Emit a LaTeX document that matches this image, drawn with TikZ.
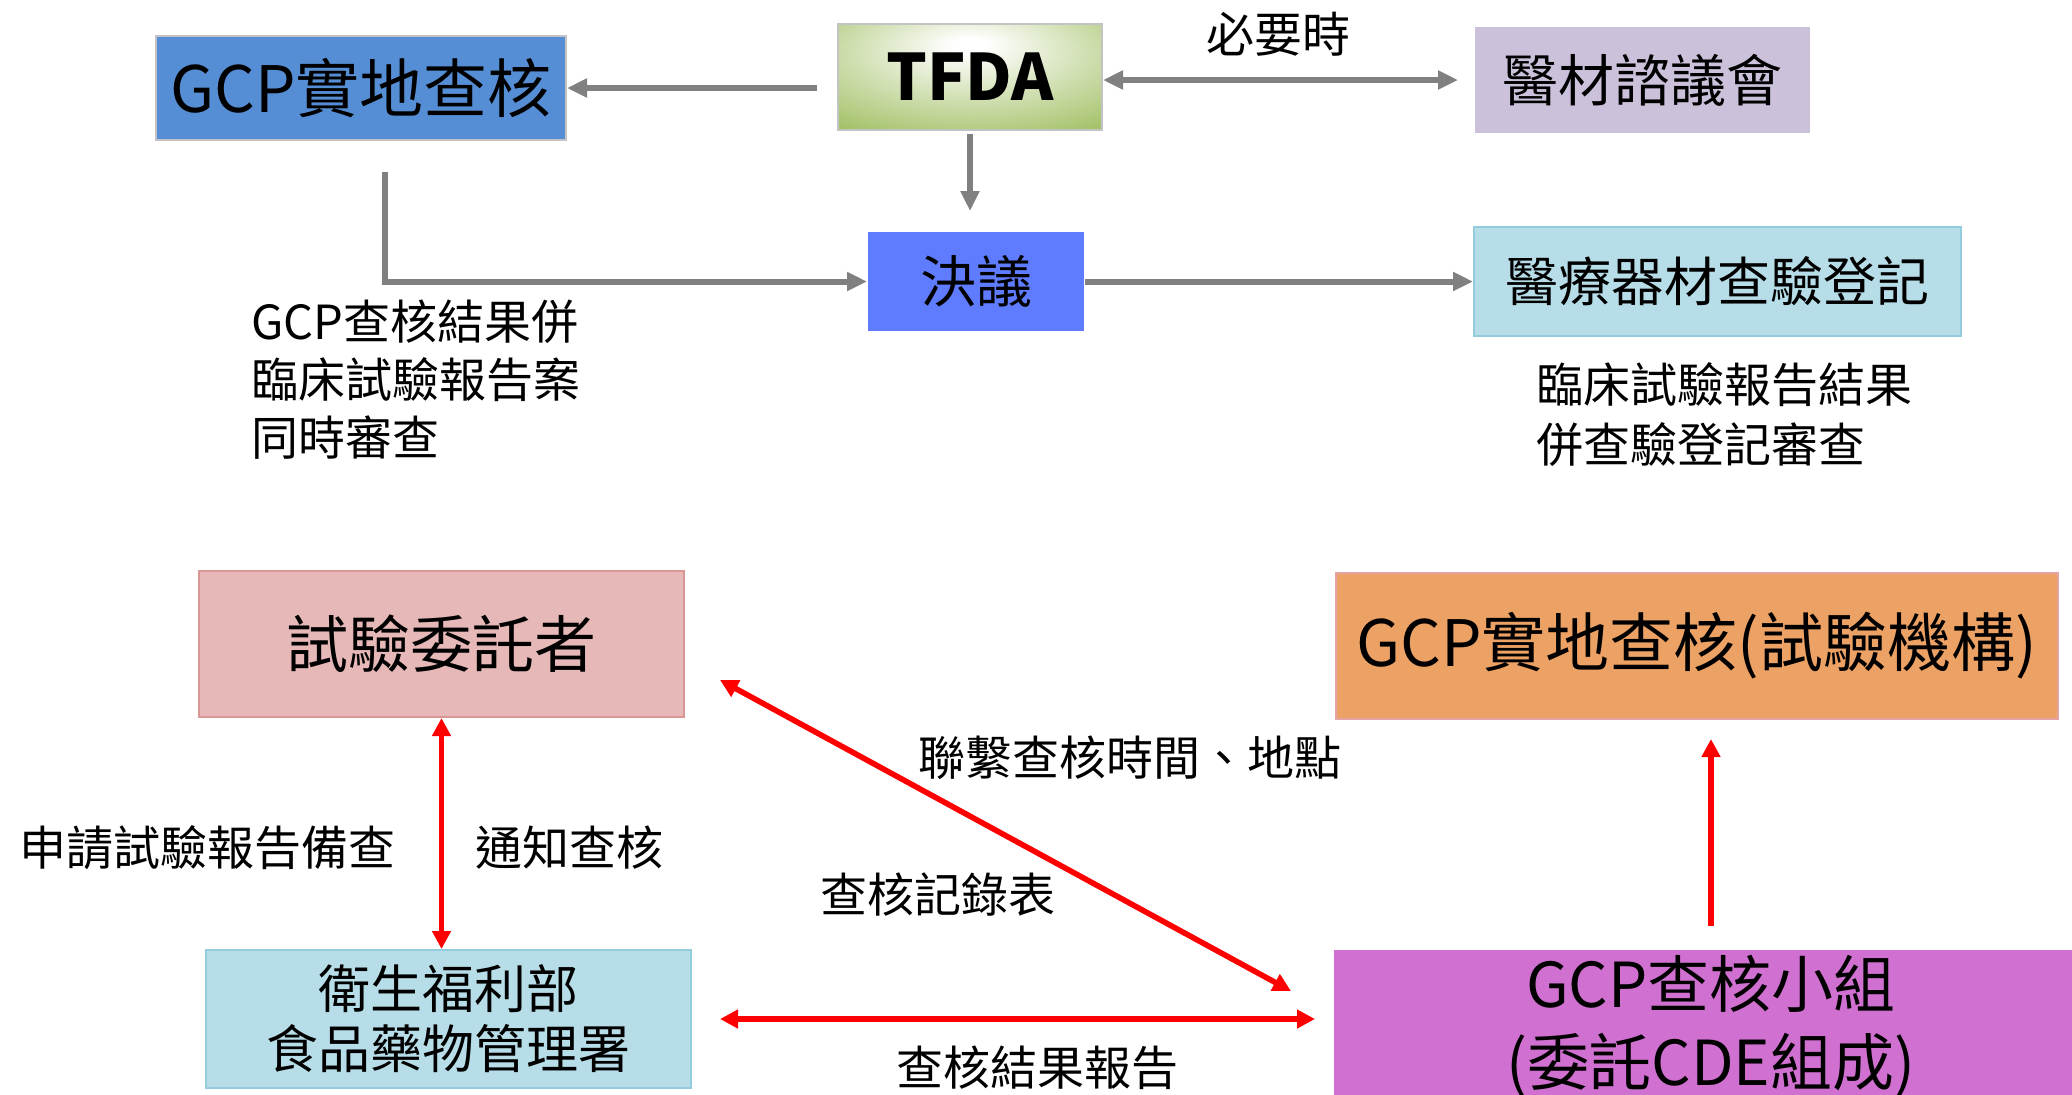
\documentclass[tikz,border=0pt]{standalone}
\usepackage{fontspec}
\setmainfont{Noto Sans CJK TC}
\usetikzlibrary{arrows.meta,calc}

\definecolor{gcpblue}{HTML}{558ED5}
\definecolor{edgegray}{HTML}{C3C3C3}
\definecolor{tfdagreen}{HTML}{9BBB59}
\definecolor{resolveblue}{HTML}{5F7CFF}
\definecolor{councilpurple}{HTML}{CCC1DA}
\definecolor{regblue}{HTML}{B7DEE8}
\definecolor{regedge}{HTML}{93CDDD}
\definecolor{sponsorpink}{HTML}{E6B9B8}
\definecolor{sponsoredge}{HTML}{D99694}
\definecolor{siteorange}{HTML}{EDA265}
\definecolor{siteedge}{HTML}{E6A3A3}
\definecolor{teampurple}{HTML}{D070D0}
\definecolor{arrowgray}{HTML}{808080}

\pgfdeclareradialshading{tfdaglow}{\pgfpoint{0bp}{16bp}}{color(0bp)=(white); color(3bp)=(white); color(44bp)=(tfdagreen); color(80bp)=(tfdagreen)}

\newcommand{\fs}[2]{\fontsize{#1}{#2}\selectfont}

\tikzset{
  box/.style={rectangle, inner sep=0pt, align=center, line width=1pt},
  grayarrow/.style={draw=arrowgray, line width=3pt, -{Triangle[length=10pt,width=9pt]}},
  redarrow/.style={draw=red, line width=2.8pt, -{Triangle[length=9pt,width=9pt]}},
  note/.style={inner sep=0pt, font=\fs{23.5pt}{29pt}},
}

\begin{document}
\begin{tikzpicture}[x=0.5pt,y=-0.5pt]
  \useasboundingbox (0,0) rectangle (2072,1094);
  % upper flow
  \draw
    (361,88) node[box, draw=edgegray, fill=gcpblue, minimum width=205pt, minimum height=52pt, font=\fs{32pt}{37pt}] (gcp){GCP實地查核}
    (970,77) node[box, draw=edgegray, shading=tfdaglow, minimum width=132pt, minimum height=53pt, font=\fs{32pt}{38pt}\bfseries] (tfda){TFDA}
    (1642.5,80) node[box, fill=councilpurple, minimum width=167.5pt, minimum height=53pt, font=\fs{28pt}{33pt}] (council){醫材諮議會}
    (976,281.5) node[box, fill=resolveblue, minimum width=108pt, minimum height=49.5pt, font=\fs{28pt}{33pt}] (resolve){決議}
    (1717.5,281.5) node[box, draw=regedge, fill=regblue, minimum width=243.5pt, minimum height=54.5pt, font=\fs{26.5pt}{31pt}] (registry){醫療器材查驗登記}
    (1278,34) node[note, font=\fs{24pt}{29pt}] (needed){必要時}
    (251,380) node[note, anchor=west, align=left] (jointnote){GCP查核結果併\\臨床試驗報告案\\同時審查}
    (1536,415) node[note, anchor=west, align=left, font=\fs{23.5pt}{30pt}] (regnote){臨床試驗報告結果\\併查驗登記審查};
  \coordinate (gcpdrop) at (385,172);

  % lower flow
  \draw
    (441.5,644) node[box, draw=sponsoredge, fill=sponsorpink, minimum width=242.5pt, minimum height=73pt, font=\fs{31pt}{36pt}] (sponsor){試驗委託者}
    (448.5,1019) node[box, draw=regedge, fill=regblue, minimum width=242.5pt, minimum height=69pt, font=\fs{26pt}{30pt}] (fda){衛生福利部\\食品藥物管理署}
    (1696.5,646) node[box, draw=siteedge, fill=siteorange, minimum width=361pt, minimum height=73pt, font=\fs{32pt}{37pt}] (site){GCP實地查核(試驗機構)}
    (1711,1026) node[box, fill=teampurple, minimum width=377pt, minimum height=76pt, font=\fs{31pt}{39pt}] (team){GCP查核小組\\(委託CDE組成)}
    (207,848) node[note] (apply){申請試驗報告備查}
    (569,848) node[note] (notify){通知查核}
    (1130,758) node[note] (contact){聯繫查核時間、地點}
    (938,895) node[note] (record){查核記錄表}
    (1037,1068) node[note] (report){查核結果報告};

  \begin{scope}[grayarrow]
    \draw[shorten <=10pt] (gcp.east -| tfda.west) to (gcp.east);
    \draw[shorten <=1.5pt, shorten >=10pt] (tfda.south) to (tfda.south |- resolve.north);
    \draw[{Triangle[length=10pt,width=9pt]}-{Triangle[length=10pt,width=9pt]}, shorten >=8pt] (council.west -| tfda.east) to (council.west);
    \draw (resolve.east) to (registry.west);
    \draw (gcpdrop) |- (resolve.west);
  \end{scope}
  \begin{scope}[redarrow]
    \draw[{Triangle[length=9pt,width=9pt]}-{Triangle[length=9pt,width=9pt]}] (sponsor.south) to (sponsor.south |- fda.north);
    \draw[{Triangle[length=9pt,width=9pt]}-{Triangle[length=9pt,width=9pt]}] ($(sponsor.south east)+(35,-38)$) to ($(team.north west)+(-42,42)$);
    \draw[{Triangle[length=9pt,width=9pt]}-{Triangle[length=9pt,width=9pt]}, shorten <=14pt, shorten >=9pt] (fda.east) to (fda.east -| team.west);
    \draw[shorten <=11.5pt, shorten >=9.5pt] (team.north) to (team.north |- site.south);
  \end{scope}
\end{tikzpicture}
\end{document}
